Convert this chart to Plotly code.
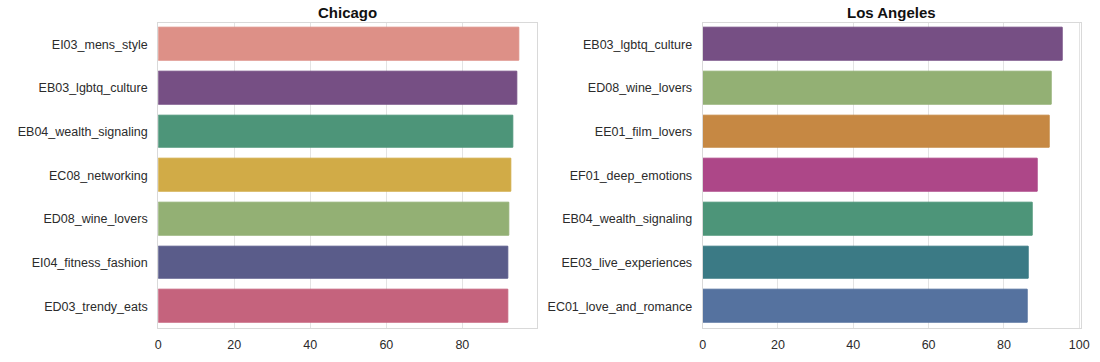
import plotly.graph_objects as go

chi_labels = ["EI03_mens_style", "EB03_lgbtq_culture", "EB04_wealth_signaling", "EC08_networking",
              "ED08_wine_lovers", "EI04_fitness_fashion", "ED03_trendy_eats"]
chi_values = [94.9, 94.5, 93.4, 93.0, 92.3, 92.2, 92.1]
chi_colors = ["#dd9087", "#764f84", "#4d9579", "#d1ab47", "#93b074", "#5a5c8a", "#c5637d"]

la_labels = ["EB03_lgbtq_culture", "ED08_wine_lovers", "EE01_film_lovers", "EF01_deep_emotions",
             "EB04_wealth_signaling", "EE03_live_experiences", "EC01_love_and_romance"]
la_values = [95.7, 92.6, 92.3, 89.0, 87.6, 86.7, 86.3]
la_colors = ["#764f84", "#93b074", "#c68843", "#ad4788", "#4d9579", "#3b7a85", "#55729f"]

titles = ["Chicago", "Los Angeles"]
x_ticks_chi = [0, 20, 40, 60, 80]
x_ticks_la = [0, 20, 40, 60, 80, 100]

FONT = "Liberation Sans, Arial, sans-serif"

fig = go.Figure()
fig.add_trace(go.Bar(x=chi_values, y=chi_labels, orientation="h", width=0.75,
                     marker=dict(color=chi_colors, line=dict(color=chi_colors, width=1)),
                     xaxis="x", yaxis="y", showlegend=False))
fig.add_trace(go.Bar(x=la_values, y=la_labels, orientation="h", width=0.75,
                     marker=dict(color=la_colors, line=dict(color=la_colors, width=1)),
                     xaxis="x2", yaxis="y2", showlegend=False))

ytop = 1 - 22.7 / 362
ybot = 1 - 328 / 362

axis_common = dict(showline=True, linecolor="#d9d9d9", linewidth=1.2, mirror=True,
                   showgrid=True, gridcolor="#e3e3e3", gridwidth=1, zeroline=False,
                   automargin=False, ticks="",
                   tickfont=dict(family=FONT, size=12.5, color="#2b2b2b"))
x_common = dict(axis_common, ticklabelstandoff=5)
y_common = dict(axis_common, showgrid=False, ticklabelstandoff=7)

fig.update_layout(
    width=1100, height=362,
    margin=dict(l=0, r=0, t=0, b=0, autoexpand=False),
    paper_bgcolor="white", plot_bgcolor="white",
    bargap=0,
    xaxis=dict(domain=[158.3 / 1100, 537 / 1100], range=[0, max(chi_values) * 1.05],
               tickvals=x_ticks_chi, anchor="y", **x_common),
    yaxis=dict(domain=[ybot, ytop], anchor="x", autorange=False, range=[6.5, -0.5],
               categoryorder="array", categoryarray=chi_labels, **y_common),
    xaxis2=dict(domain=[702.7 / 1100, 1081 / 1100], range=[0, max(la_values) * 1.05],
                tickvals=x_ticks_la, anchor="y2", **x_common),
    yaxis2=dict(domain=[ybot, ytop], anchor="x2", autorange=False, range=[6.5, -0.5],
                categoryorder="array", categoryarray=la_labels, **y_common),
    annotations=[
        dict(text="<b>" + titles[0] + "</b>", x=(158.3 + 537) / 2 / 1100, y=1 - 12 / 362,
             xref="paper", yref="paper", showarrow=False, xanchor="center", yanchor="middle",
             font=dict(family=FONT, size=15, color="#111111")),
        dict(text="<b>" + titles[1] + "</b>", x=(702.7 + 1081) / 2 / 1100, y=1 - 12 / 362,
             xref="paper", yref="paper", showarrow=False, xanchor="center", yanchor="middle",
             font=dict(family=FONT, size=15, color="#111111")),
    ],
)

fig.write_html("out.html", config={"displayModeBar": False},
               post_script="document.body.style.margin='0';document.body.style.overflow='hidden';")
